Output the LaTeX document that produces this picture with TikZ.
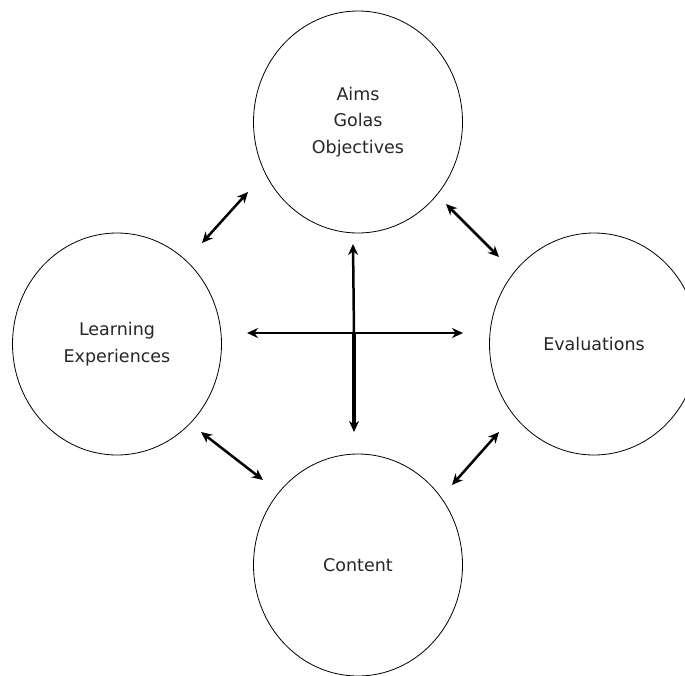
\documentclass[tikz,border=0pt]{standalone}
\usepackage{fontspec}
\setmainfont{DejaVu Sans}
\usetikzlibrary{shapes.geometric,arrows.meta}
\tikzset{
    round-node/.style = {draw=black, ellipse, line width=0.8pt, minimum width=209pt, minimum height=222pt, inner sep=0pt, align=center, text=black!85, font=\fontsize{17.5}{26.5}\selectfont},
    two-arrow/.style = {{Stealth[length=11pt,width=10pt]}-{Stealth[length=11pt,width=10pt]}, line width=2.5pt},
}
\begin{document}
\begin{tikzpicture}[x=1pt,y=-1pt]
\useasboundingbox (0,0) rectangle (685,675);
\node[round-node] (aims) at (358,122) {Aims\\Golas\\Objectives};
\node[round-node] (learn) at (117,344) {Learning\\Experiences};
\node[round-node] (eval) at (594,344) {Evaluations};
\node[round-node] (content) at (358,565) {Content};

\coordinate (al-a) at (248,192);
\coordinate (al-b) at (202,243);
\coordinate (ae-a) at (446,204);
\coordinate (ae-b) at (499,257);
\coordinate (lc-a) at (201,432);
\coordinate (lc-b) at (263,480);
\coordinate (ec-a) at (499,432);
\coordinate (ec-b) at (452,485);
\coordinate (mid) at (354,333);
\coordinate (up) at (353,244);
\coordinate (down) at (354,432);
\coordinate (left) at (247,333);
\coordinate (right) at (463,333);

\draw[two-arrow] (al-a) -- (al-b);
\draw[two-arrow] (ae-a) -- (ae-b);
\draw[two-arrow] (lc-a) -- (lc-b);
\draw[two-arrow] (ec-a) -- (ec-b);
\draw[two-arrow] (left) -- (right);
\draw[-{Stealth[length=11pt,width=10pt]}, line width=2.5pt] (mid) -- (up);
\draw[-{Stealth[length=11pt,width=10pt]}, line width=3.5pt] (mid) -- (down);
\end{tikzpicture}
\end{document}
